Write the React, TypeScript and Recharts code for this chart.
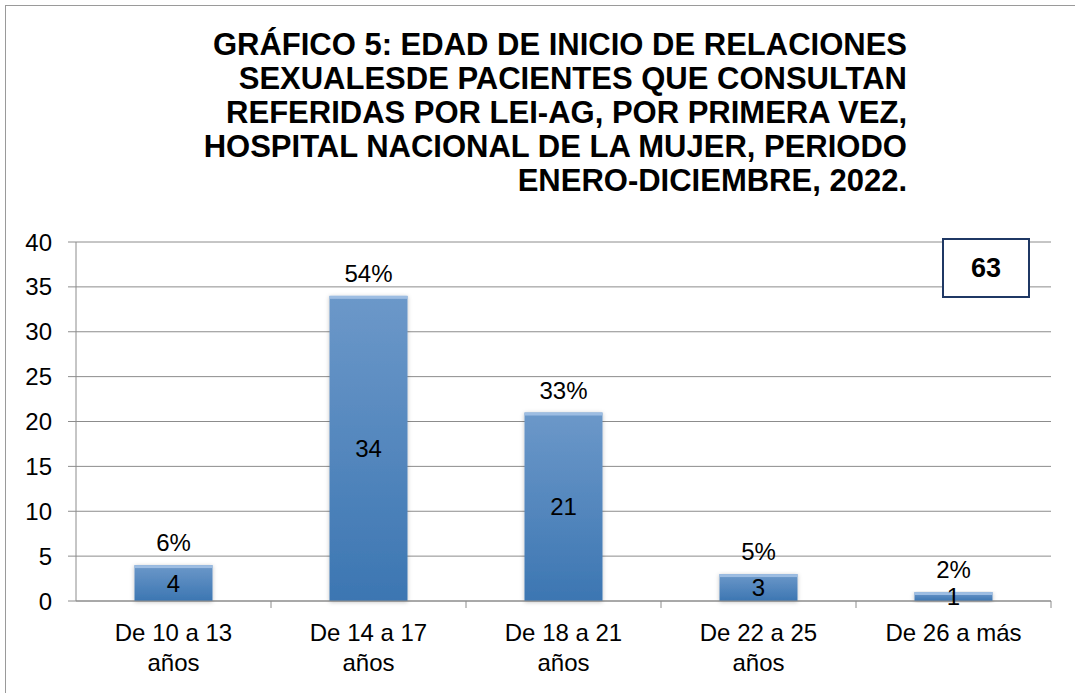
import { BarChart, Bar, XAxis, YAxis, CartesianGrid, LabelList } from "recharts"

const categories = ["De 10 a 13 años", "De 14 a 17 años", "De 18 a 21 años", "De 22 a 25 años", "De 26 a más"]
const labelLines = [
  ["De 10 a 13", "años"],
  ["De 14 a 17", "años"],
  ["De 18 a 21", "años"],
  ["De 22 a 25", "años"],
  ["De 26 a más"],
]
const pacientes = [4, 34, 21, 3, 1]
const yTicks = [0, 5, 10, 15, 20, 25, 30, 35, 40]
const titleLines = [
  "GRÁFICO 5: EDAD DE INICIO DE RELACIONES",
  "SEXUALESDE PACIENTES QUE CONSULTAN",
  "REFERIDAS POR LEI-AG, POR PRIMERA VEZ,",
  "HOSPITAL NACIONAL DE LA MUJER, PERIODO",
  "ENERO-DICIEMBRE, 2022.",
]

const total = pacientes.reduce((a, b) => a + b, 0)

const data = categories.map((name, i) => ({
  name,
  value: pacientes[i],
  pct: `${Math.round((pacientes[i] / total) * 100)}%`,
}))

const FONT = "Arial, 'Liberation Sans', sans-serif"
const AXIS = "#8c8c8c"
const PLOT_LEFT = 76
const PLOT_RIGHT = 1051
const BAND = (PLOT_RIGHT - PLOT_LEFT) / categories.length

// category label plus the tick marks between categories
function XTick(props: any) {
  const { x, y, index } = props
  const lines = labelLines[index] || []
  const left = x - BAND / 2
  const right = x + BAND / 2
  return (
    <g>
      {index > 0 && <line x1={left} y1={y - 8} x2={left} y2={y - 1} stroke={AXIS} />}
      {index === categories.length - 1 && (
        <line x1={right} y1={y - 8} x2={right} y2={y - 1} stroke={AXIS} />
      )}
      {lines.map((l: string, k: number) => (
        <text
          key={k}
          x={x}
          y={y + 32 + k * 30}
          textAnchor="middle"
          fontSize={24}
          fontFamily={FONT}
          fill="#000"
        >
          {l}
        </text>
      ))}
    </g>
  )
}

// gradient bar with a thin light bevel on top and a soft shadow
function BevelBar(props: any) {
  const { x, y, width, height } = props
  if (!height || height <= 0) return null
  const strip = Math.min(3, height / 3)
  return (
    <g filter="url(#barShadow)">
      <rect x={x} y={y} width={width} height={height} fill="url(#barFill)" />
      <rect x={x} y={y} width={width} height={strip} fill="#9dbde2" />
    </g>
  )
}

export default function App() {
  return (
    <div
      style={{
        position: "absolute",
        left: 0,
        top: 0,
        width: 1075,
        height: 693,
        background: "#fff",
        overflow: "hidden",
      }}
    >
      <div
        style={{
          position: "absolute",
          left: 5,
          top: 5,
          width: 1100,
          height: 720,
          border: "1.5px solid #9a9a9a",
        }}
      />
      <div
        style={{
          position: "absolute",
          right: 1075 - 907,
          top: 28,
          textAlign: "right",
          fontFamily: FONT,
          fontWeight: "bold",
          fontSize: 31,
          lineHeight: "34px",
          color: "#000",
          whiteSpace: "nowrap",
        }}
      >
        {titleLines.map((t, i) => (
          <div key={i}>{t}</div>
        ))}
      </div>
      <div style={{ position: "absolute", left: 0, top: 0 }}>
        <BarChart
          width={1075}
          height={693}
          data={data}
          margin={{ top: 242, right: 1075 - PLOT_RIGHT, bottom: 62, left: 16 }}
          barCategoryGap="30%"
        >
          <defs>
            <linearGradient id="barFill" x1="0" y1="0" x2="0" y2="1">
              <stop offset="0" stopColor="#6c98c9" />
              <stop offset="1" stopColor="#3c76b2" />
            </linearGradient>
            <filter id="barShadow" x="-10%" y="-10%" width="120%" height="130%">
              <feDropShadow dx="0" dy="1" stdDeviation="2" floodColor="#000" floodOpacity="0.25" />
            </filter>
          </defs>
          <CartesianGrid vertical={false} stroke={AXIS} strokeWidth={1} />
          <XAxis
            dataKey="name"
            height={30}
            axisLine={{ stroke: AXIS }}
            tickLine={false}
            tick={<XTick />}
            interval={0}
          />
          <YAxis
            domain={[0, 40]}
            ticks={yTicks}
            width={60}
            axisLine={{ stroke: AXIS }}
            tickLine={{ stroke: AXIS }}
            tickSize={8}
            tickMargin={16}
            tick={{ fontSize: 24, fontFamily: FONT, fill: "#000" }}
          />
          <Bar dataKey="value" fill="#4f86c0" shape={<BevelBar />} isAnimationActive={false}>
            <LabelList
              dataKey="pct"
              position="top"
              offset={14}
              style={{ fontSize: 24, fontFamily: FONT, fill: "#000" }}
            />
            <LabelList
              dataKey="value"
              position="center"
              style={{ fontSize: 24, fontFamily: FONT, fill: "#000" }}
            />
          </Bar>
        </BarChart>
      </div>
      <div
        style={{
          position: "absolute",
          left: 942,
          top: 238,
          width: 84,
          height: 56,
          border: "2px solid #1f3864",
          background: "#fff",
          display: "flex",
          alignItems: "center",
          justifyContent: "center",
          fontFamily: FONT,
          fontWeight: "bold",
          fontSize: 27,
          color: "#000",
        }}
      >
        {total}
      </div>
    </div>
  )
}
